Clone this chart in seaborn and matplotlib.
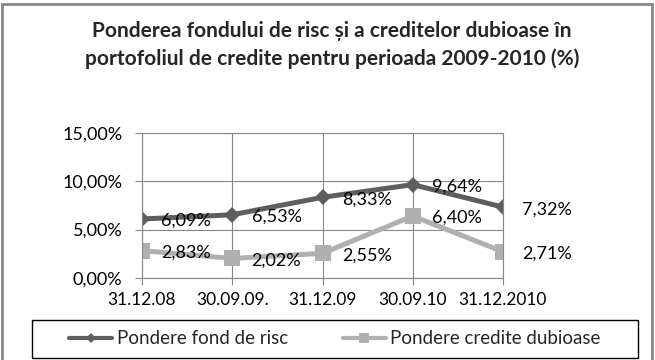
import numpy as np
import pandas as pd
import matplotlib.pyplot as plt
import seaborn as sns
from matplotlib.lines import Line2D
from matplotlib.patches import Rectangle
from matplotlib.ticker import FuncFormatter

# data
dates = ["31.12.08", "30.09.09.", "31.12.09", "30.09.10", "31.12.2010"]
fond_risc = [6.09, 6.53, 8.33, 9.64, 7.32]
credite_dubioase = [2.83, 2.02, 2.55, 6.40, 2.71]
series_names = ["Pondere fond de risc", "Pondere credite dubioase"]

dark = "#5e5e5e"
light = "#b0b0b0"

sns.set_theme(style="white")
plt.rcParams["font.family"] = ["Lato", "DejaVu Sans"]

fig = plt.figure(figsize=(6.55, 3.6), dpi=100)
ax = fig.add_axes([142 / 655, 1 - 278 / 360, 361 / 655, 145.3 / 360])

sns.lineplot(x=dates, y=fond_risc, ax=ax, color=dark, lw=3.6,
             marker="D", markersize=8, markeredgewidth=0, sort=False)
sns.lineplot(x=dates, y=credite_dubioase, ax=ax, color=light, lw=3.6,
             marker="s", markersize=11.5, markeredgewidth=0, sort=False)

# data labels to the right of each point
def pct(v):
    return f"{v:.2f}%".replace(".", ",")

for i in range(len(dates)):
    ax.annotate(pct(fond_risc[i]), (i, fond_risc[i]),
                xytext=(14, -1.5), textcoords="offset points", va="center",
                ha="left", fontsize=13, color="black")
    ax.annotate(pct(credite_dubioase[i]), (i, credite_dubioase[i]),
                xytext=(14, -1.5), textcoords="offset points", va="center",
                ha="left", fontsize=13, color="black")

ax.set_xlim(0, len(dates) - 1)
ax.set_ylim(0, 15)
ax.set_yticks([0, 5, 10, 15])
ax.yaxis.set_major_formatter(FuncFormatter(lambda v, p: pct(v)))
ax.grid(True, color="#868686", lw=0.8)
ax.set_xlabel("")
ax.set_ylabel("")
for s in ax.spines.values():
    s.set_color("#868686")
    s.set_linewidth(0.8)
ax.tick_params(axis="both", which="major", length=5, width=0.8, color="#868686",
               labelcolor="black", direction="out", bottom=True, left=True)
ax.tick_params(axis="y", labelsize=13, pad=9)
ax.tick_params(axis="x", labelsize=12.5, pad=5)

fig.text(332 / 655, 1 - 31 / 360, "Ponderea fondului de risc și a creditelor dubioase în",
         ha="center", va="center", fontsize=15, fontweight="bold")
fig.text(332 / 655, 1 - 59 / 360, "portofoliul de credite pentru perioada 2009-2010 (%)",
         ha="center", va="center", fontsize=15, fontweight="bold")

# legend box
fig.add_artist(Rectangle((32 / 655, 1 - 358 / 360), 606 / 655, 38 / 360,
                         transform=fig.transFigure, fill=False,
                         edgecolor="black", lw=1))
handles = [Line2D([], [], color=dark, lw=3, marker="D", markersize=5.5, markeredgewidth=0),
           Line2D([], [], color=light, lw=3, marker="s", markersize=7, markeredgewidth=0)]
fig.legend(handles, series_names, loc="center", ncol=2, frameon=False,
           bbox_to_anchor=(335 / 655, 1 - 339 / 360), fontsize=13.5,
           handlelength=2.3, handletextpad=0.25, columnspacing=2.9)

# outer chart border
fig.add_artist(Rectangle((2 / 655, -0.01), 650 / 655, 1.0,
                         transform=fig.transFigure, fill=False,
                         edgecolor="#868686", lw=2))

fig.savefig("out.png", dpi=100)
